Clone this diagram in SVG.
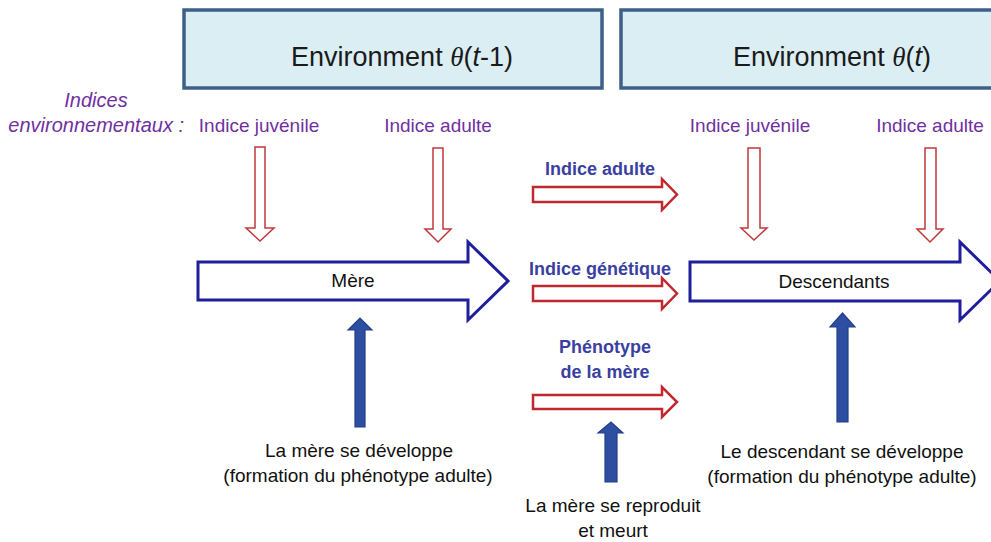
<svg xmlns="http://www.w3.org/2000/svg" width="991" height="542" viewBox="0 0 991 542">
<style>
  text { font-family: "Liberation Sans", Arial, sans-serif; }
  .env { fill: #daeef3; stroke: #3d6088; stroke-width: 3.5; }
  .envt { font-size: 27px; fill: #1a1a1a; text-anchor: middle; }
  .theta { font-family: "Liberation Serif", serif; font-style: italic; }
  .it { font-style: italic; }
  .purple { font-size: 19px; fill: #7030a0; text-anchor: middle; }
  .lbl { font-size: 20px; }
  .blk { font-size: 19px; fill: #111; text-anchor: middle; }
  .bold { font-size: 18px; font-weight: bold; fill: #3a3fa2; text-anchor: middle; }
  .big { fill: #fff; stroke: #1f1f9c; stroke-width: 3; stroke-linejoin: miter; }
  .redv { fill: #fff; stroke: #c0393b; stroke-width: 1.5; }
  .redh { fill: #fff; stroke: #c0282e; stroke-width: 2.5; }
  .up { fill: #2e4ea2; stroke: #213f8c; stroke-width: 1.2; }
</style>

<g id="env-t-1">
  <rect class="env" x="184" y="10" width="418" height="78"/>
  <text class="envt" x="402" y="66">Environment <tspan class="theta">θ</tspan>(<tspan class="it">t</tspan>-1)</text>
</g>
<g id="env-t">
  <rect class="env" x="621" y="10" width="420" height="78"/>
  <text class="envt" x="832" y="66">Environment <tspan class="theta">θ</tspan>(<tspan class="it">t</tspan>)</text>
</g>

<g id="indices-label">
  <text class="purple it lbl" x="96" y="107">Indices</text>
  <text class="purple it lbl" x="184" y="132" style="text-anchor:end">environnementaux :</text>
</g>
<g id="cues-top">
  <text class="purple" x="259" y="132">Indice juvénile</text>
  <text class="purple" x="438" y="132">Indice adulte</text>
  <text class="purple" x="750" y="132">Indice juvénile</text>
  <text class="purple" x="930" y="132">Indice adulte</text>
</g>

<g id="mere">
  <polygon class="big" points="198,262 468,262 468,242 508,281 468,320 468,300 198,300"/>
  <text class="blk" x="353" y="287">Mère</text>
</g>
<g id="descendants">
  <polygon class="big" points="690,262 960,262 960,242 1000,281 960,320 960,301 690,301"/>
  <text class="blk" x="834" y="288">Descendants</text>
</g>

<g id="transmission-labels">
  <text class="bold" x="600" y="175">Indice adulte</text>
  <text class="bold" x="600" y="275">Indice génétique</text>
  <text class="bold" x="605" y="353">Phénotype</text>
  <text class="bold" x="605" y="378">de la mère</text>
</g>

<g id="dev-labels">
  <text class="blk" x="359" y="457">La mère se développe</text>
  <text class="blk" x="358" y="482">(formation du phénotype adulte)</text>
  <text class="blk" x="842" y="458">Le descendant se développe</text>
  <text class="blk" x="842" y="483">(formation du phénotype adulte)</text>
  <text class="blk" x="613" y="512">La mère se reproduit</text>
  <text class="blk" x="613" y="537">et meurt</text>
</g>

<g id="connectors">
  <polygon class="redv" points="255,147 265,147 265,228 274,228 260,241 246,228 255,228"/>
  <polygon class="redv" points="433,148 443,148 443,229 451,229 438,242 425,229 433,229"/>
  <polygon class="redv" points="748,148 760,148 760,228 767,228 754,240 741,228 748,228"/>
  <polygon class="redv" points="925,148 936,148 936,229 943,229 930,242 917,229 925,229"/>

  <polygon class="redh" points="533,187 662,187 662,179 677,194.5 662,210 662,202 533,202"/>
  <polygon class="redh" points="533,286 662,286 662,278 677,293.5 662,309 662,301 533,301"/>
  <polygon class="redh" points="533,395 662,395 662,387 677,402 662,417 662,409 533,409"/>

  <polygon class="up" points="355,427 355,330 348,330 360,318 372,330 365,330 365,427"/>
  <polygon class="up" points="837,422 837,327 830,327 842.5,313 855,327 848,327 848,422"/>
  <polygon class="up" points="605,482 605,433 598,433 611,422 623,433 617,433 617,482"/>
</g>
</svg>
